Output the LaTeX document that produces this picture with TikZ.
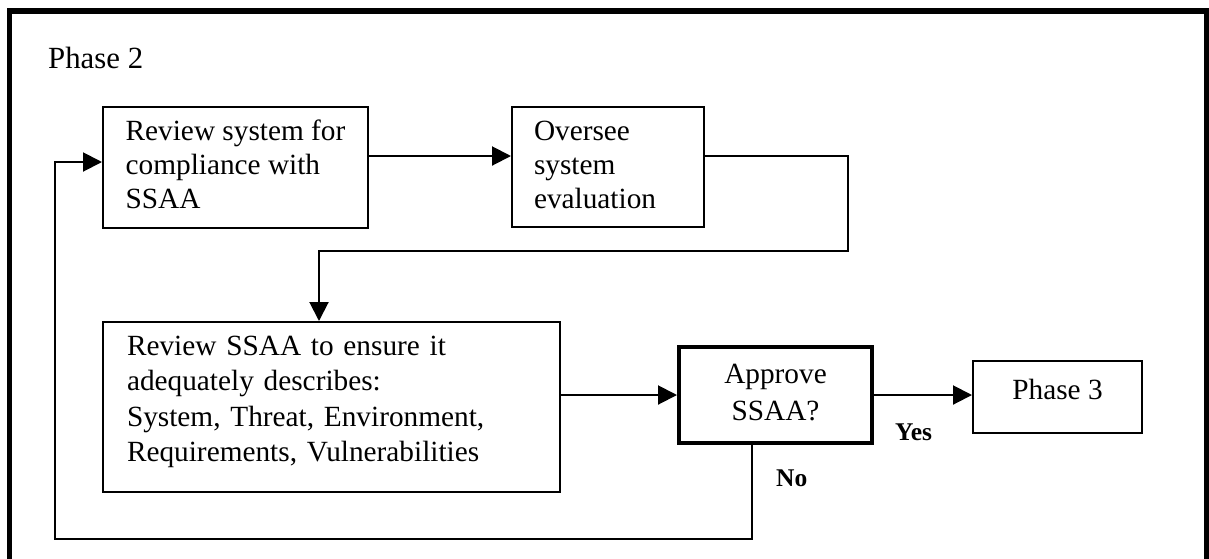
\documentclass[tikz,border=0pt]{standalone}
\usepackage{fontspec}
\setmainfont{Liberation Serif}
\usetikzlibrary{arrows.meta,calc}
\begin{document}
\begin{tikzpicture}[x=1pt,y=-1pt,
  every node/.style={font=\fontsize{29.3}{34}\selectfont},
  box/.style={draw, line width=2pt, inner sep=0pt, anchor=center},
  arr/.style={line width=2pt, -{Triangle[length=19pt,width=19pt]}},
  lbl/.style={font=\fontsize{25.5}{28}\selectfont\bfseries, inner sep=0pt, anchor=base west}
]
\useasboundingbox (0,0) rectangle (1209,558);
\draw[line width=5.5pt] (9.5,566) -- (9.5,11) -- (1206.5,11) -- (1206.5,566);

\node[anchor=base west, inner sep=0pt, font=\fontsize{30.8}{34}\selectfont] (ph2) at (48,68) {Phase 2};

\node[box, minimum width=265pt, minimum height=121pt, align=left] (b1) at (235.5,167.5)
  {Review system for\\compliance with\\SSAA\rule[-7pt]{0pt}{0pt}};
\node[box, minimum width=192pt, minimum height=120pt, text width=148pt, align=left] (b2) at (608,167)
  {Oversee\\system\\evaluation\rule[-5pt]{0pt}{0pt}};
\node[box, minimum width=457pt, minimum height=170pt, text width=409pt, align=left,
  font=\fontsize{29.3}{35.5}\selectfont] (b3) at (331.5,407)
  {Review SSAA to ensure it\\adequately describes:\\System, Threat, Environment,\\Requirements, Vulnerabilities\rule[-16pt]{0pt}{0pt}};
\node[box, line width=4pt, minimum width=193pt, minimum height=96pt, align=center,
  font=\fontsize{29.3}{37}\selectfont] (approve) at (775.5,395)
  {Approve\\SSAA?\rule[-6pt]{0pt}{0pt}};
\node[box, minimum width=169pt, minimum height=72pt, text depth=16pt] (ph3) at (1057.5,397) {Phase 3};

\node[lbl] (yes) at (895,440) {Yes};
\node[lbl] (no) at (776,486) {No};

\coordinate (a1) at ([yshift=11.5pt]b1.east);
\draw[arr] (a1) -- (a1 -| b2.west);
\coordinate (a2) at ([yshift=11.5pt]b2.east);
\coordinate (c1) at (848,251);
\coordinate (a3) at ([xshift=-12.5pt]b3.north);
\draw[arr] (a2) -| (c1) -| (a3);
\draw[arr] (approve.west -| b3.east) -- (approve.west);
\draw[arr] (approve.east) -- (approve.east -| ph3.west);
\coordinate (c2) at (55,539);
\coordinate (a4) at ([xshift=-23.5pt]approve.south);
\coordinate (a5) at ([yshift=5.5pt]b1.west);
\draw[arr] (a4) |- (c2) |- (a5);
\end{tikzpicture}
\end{document}
